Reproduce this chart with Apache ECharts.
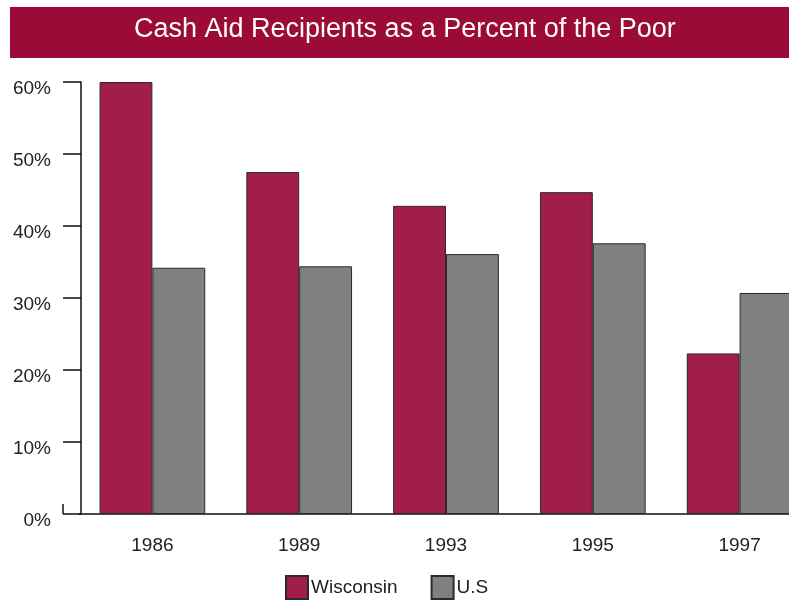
<!DOCTYPE html>
<html>
<head>
<meta charset="utf-8">
<title>Cash Aid Recipients as a Percent of the Poor</title>
<script src="https://cdn.jsdelivr.net/npm/echarts@6/dist/echarts.min.js"></script>
<style>
  html, body { margin: 0; padding: 0; background: #fff; }
  #chart { width: 789px; height: 600px; }
</style>
</head>
<body>
<div id="chart"></div>
<script>
// Survey years
const years = ['1986', '1989', '1993', '1995', '1997'];
// Share of the poor receiving cash aid (%)
const wisconsin = [60.0, 47.5, 42.8, 44.7, 22.3];
const us = [34.2, 34.4, 36.1, 37.6, 30.7];
// Value axis ticks
const yTicks = [0, 10, 20, 30, 40, 50, 60];

const titleText = 'Cash Aid Recipients as a Percent of the Poor';
const FONT = '"Liberation Sans", Arial, Helvetica, sans-serif';
const TEXT = '#222';
const WI_COLOR = '#a11e4b';
const US_COLOR = '#808080';
const EDGE = '#2a2a2a';

// Layout: the plot runs a little past the right edge of the page
const GRID_LEFT = 79;
const GRID_TOP = 82;
const GRID_BOTTOM = 86;
const GRID_WIDTH = 734;
const TICK_LEN = 18;
const AXIS_SHIFT = -2;

const chart = echarts.init(document.getElementById('chart'), null, { renderer: 'canvas' });

chart.setOption({
  backgroundColor: '#fff',
  animation: false,
  title: {
    text: titleText,
    left: 134,
    top: 16,
    padding: 0,
    textStyle: { color: '#fff', fontFamily: FONT, fontSize: 27, fontWeight: 'normal' }
  },
  legend: {
    data: ['Wisconsin', 'U.S'],
    left: 285,
    top: 575,
    padding: 0,
    icon: 'rect',
    itemWidth: 22,
    itemHeight: 23,
    itemGap: 33,
    textStyle: { color: TEXT, fontFamily: FONT, fontSize: 19, padding: [2, 0, 0, -2] }
  },
  grid: {
    left: GRID_LEFT, width: GRID_WIDTH, top: GRID_TOP, bottom: GRID_BOTTOM,
    containLabel: false, outerBoundsMode: 'none'
  },
  xAxis: {
    type: 'category',
    data: years,
    axisLine: { lineStyle: { color: '#111', width: 1.5 } },
    axisTick: { show: false },
    axisLabel: { color: TEXT, fontFamily: FONT, fontSize: 19, margin: 22 }
  },
  yAxis: {
    type: 'value',
    min: yTicks[0],
    max: yTicks[yTicks.length - 1],
    interval: yTicks[1] - yTicks[0],
    offset: AXIS_SHIFT,
    splitLine: { show: false },
    axisLine: { show: true, lineStyle: { color: '#111', width: 1.5 } },
    axisTick: { show: true, length: TICK_LEN, lineStyle: { color: '#111', width: 1.5 } },
    axisLabel: {
      color: TEXT, fontFamily: FONT, fontSize: 19, margin: 30,
      verticalAlign: 'top', lineHeight: 14,
      formatter: '{value}%'
    }
  },
  series: [
    {
      name: 'Wisconsin',
      type: 'bar',
      data: wisconsin,
      barGap: '0%',
      barCategoryGap: '28%',
      itemStyle: { color: WI_COLOR, borderColor: EDGE, borderWidth: 1 }
    },
    {
      name: 'U.S',
      type: 'bar',
      data: us,
      itemStyle: { color: US_COLOR, borderColor: EDGE, borderWidth: 1 }
    }
  ]
});

// Banner behind the title, plus the short upturned end of the baseline
const zeroY = chart.convertToPixel({ yAxisIndex: 0 }, 0);
const axisX = GRID_LEFT - AXIS_SHIFT;
chart.setOption({
  graphic: [
    {
      type: 'rect', z: -1, silent: true,
      shape: { x: 10, y: 7, width: 800, height: 51 },
      style: { fill: '#9c0b38' }
    },
    {
      type: 'line', silent: true,
      shape: { x1: axisX - TICK_LEN, y1: zeroY - 10, x2: axisX - TICK_LEN, y2: zeroY },
      style: { stroke: '#111', lineWidth: 1.5 }
    }
  ]
});
</script>
</body>
</html>
